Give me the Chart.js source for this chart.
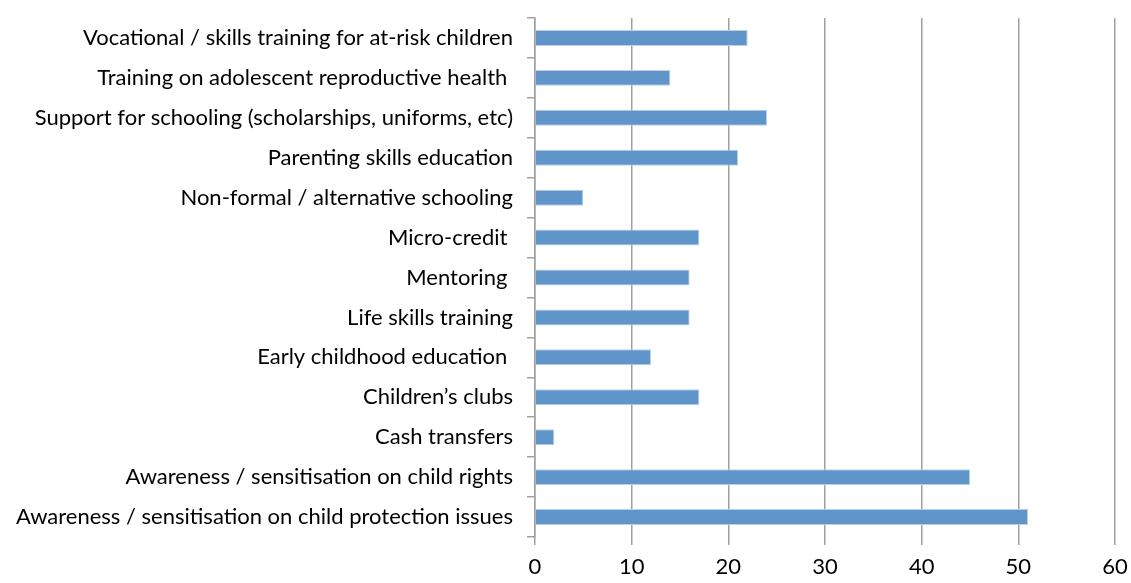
<!DOCTYPE html>
<html>
<head>
<meta charset="utf-8">
<script src="https://cdn.jsdelivr.net/npm/chart.js@4/dist/chart.umd.min.js"></script>
<style>
  html, body { margin: 0; padding: 0; background: #fff; }
  #wrap { width: 1131px; height: 583px; }
</style>
</head>
<body>
<div id="wrap"><canvas id="barChart" width="1131" height="583"></canvas></div>
<script>
const activities = [
    'Vocational / skills training for at-risk children',
    'Training on adolescent reproductive health ',
    'Support for schooling (scholarships, uniforms, etc)',
    'Parenting skills education',
    'Non-formal / alternative schooling',
    'Micro-credit ',
    'Mentoring ',
    'Life skills training',
    'Early childhood education ',
    'Children\u2019s clubs',
    'Cash transfers',
    'Awareness / sensitisation on child rights',
    'Awareness / sensitisation on child protection issues'
];
const counts = [22, 14, 24, 21, 5, 17, 16, 16, 12, 17, 2, 45, 51];
const xTicks = [0, 10, 20, 30, 40, 50, 60];

const ctx = document.getElementById('barChart').getContext('2d');

new Chart(ctx, {
    type: 'bar',
    data: {
        labels: activities,
        datasets: [{
            data: counts,
            backgroundColor: '#5f95c9',
            borderColor: '#b8d0ea',
            borderWidth: 1,
            categoryPercentage: 0.4,
            barPercentage: 1.0
        }]
    },
    options: {
        indexAxis: 'y',
        responsive: false,
        animation: false,
        layout: { padding: { top: 18, right: 16, left: 0, bottom: 0 } },
        plugins: { legend: { display: false }, tooltip: { enabled: false } },
        scales: {
            x: {
                min: 0,
                max: 60,
                afterBuildTicks: (scale) => { scale.ticks = xTicks.map(v => ({ value: v })); },
                afterFit: (scale) => {
                    scale.height = 46;
                    scale.paddingLeft = 0;
                    scale.paddingRight = 0;
                },
                grid: { color: '#a0a0a0', lineWidth: 1.5, tickLength: 8 },
                border: { display: false },
                ticks: { color: '#000', padding: 9, font: { family: 'Lato', size: 22 } }
            },
            y: {
                afterFit: (scale) => {
                    scale.width = 535;
                    scale.paddingTop = 0;
                    scale.paddingBottom = 0;
                },
                grid: { drawOnChartArea: false, color: '#a0a0a0', lineWidth: 1.5, tickLength: 8, offset: true },
                border: { color: '#a0a0a0', width: 1.5 },
                ticks: { color: '#000', padding: 14, font: { family: 'Lato', size: 22 } }
            }
        }
    }
});
</script>
</body>
</html>
